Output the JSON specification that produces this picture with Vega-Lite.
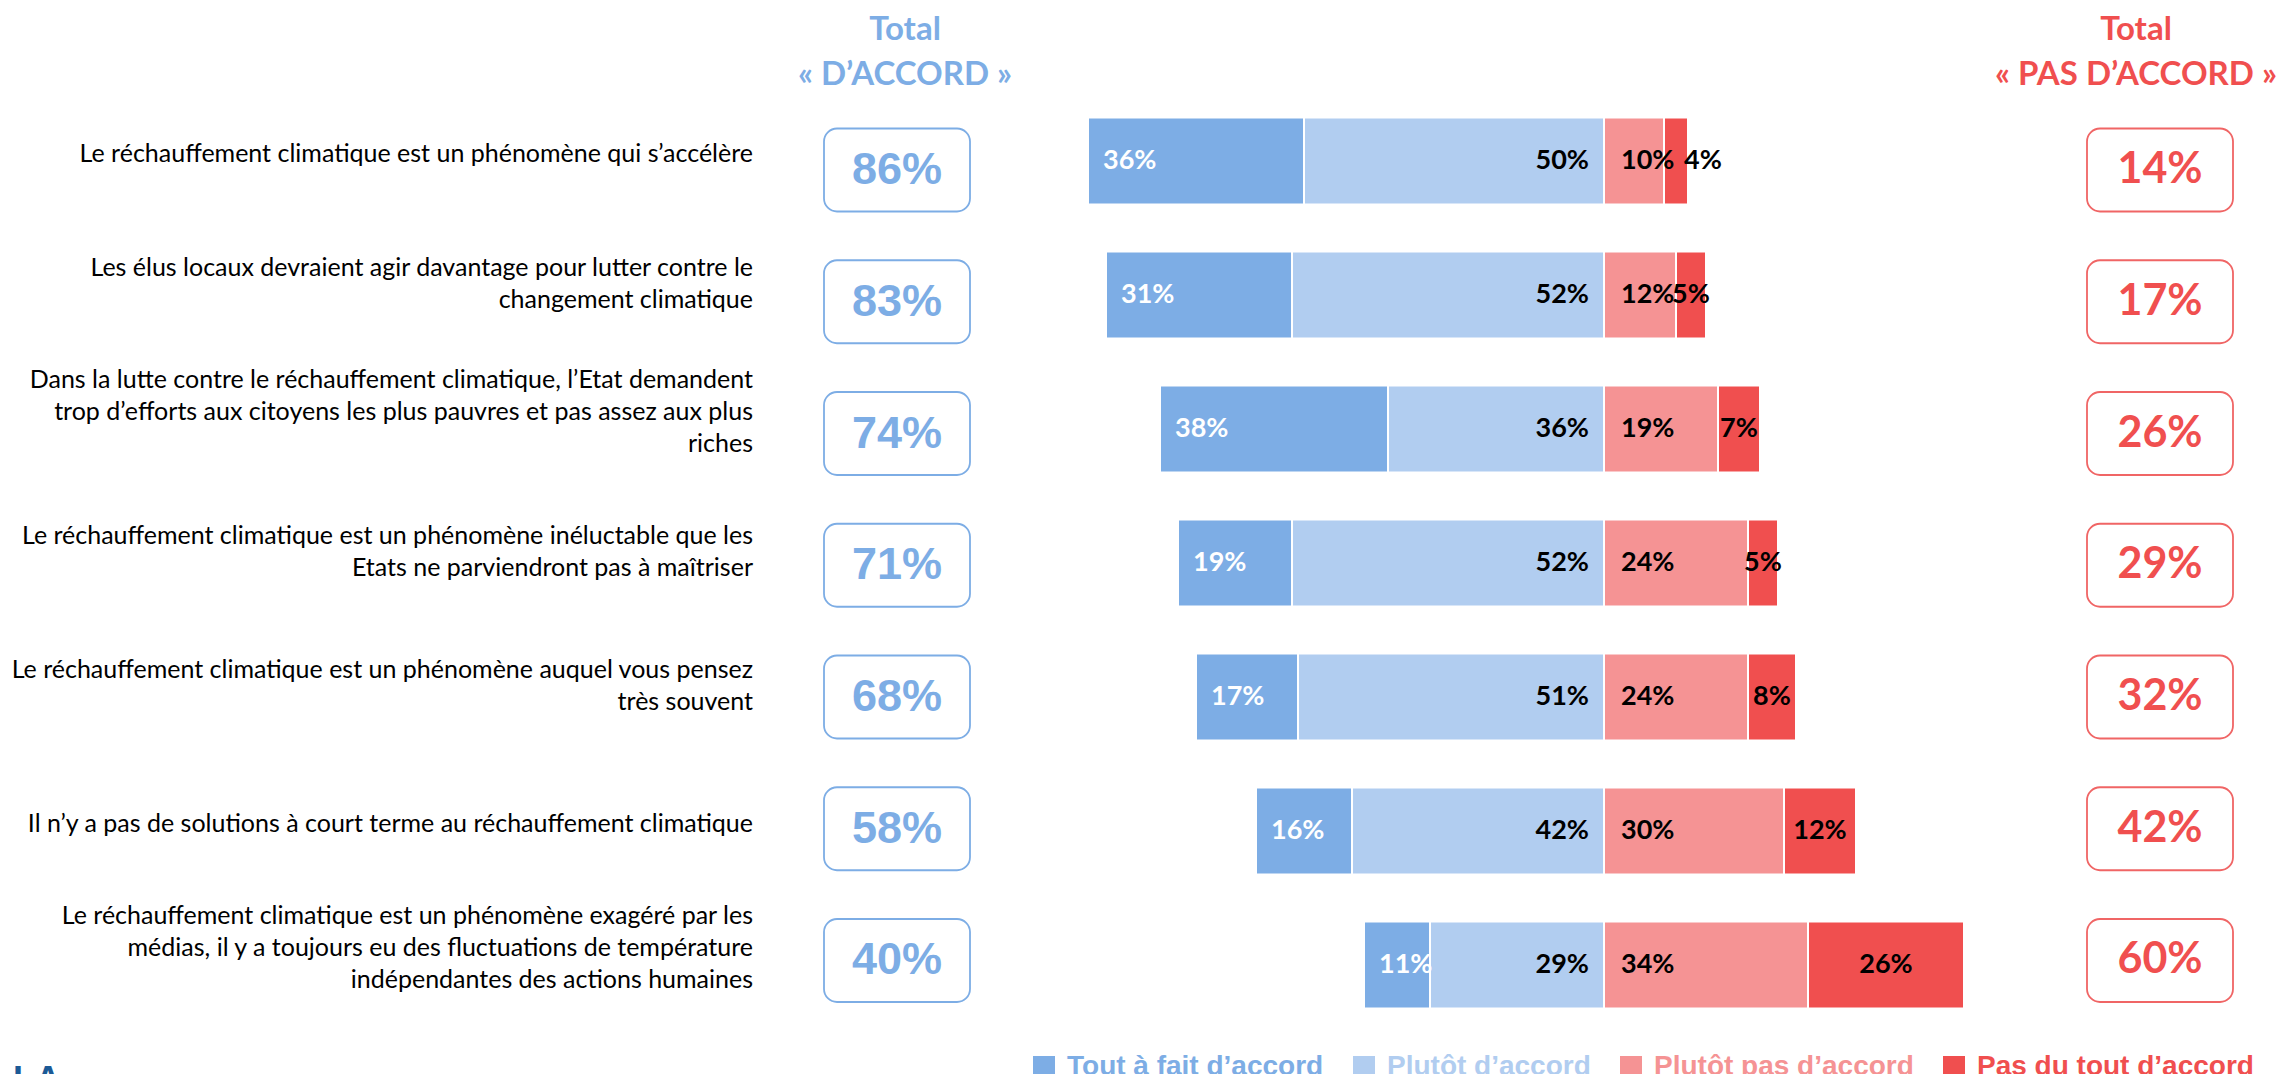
{
  "$schema": "https://vega.github.io/schema/vega-lite/v6.json",
  "padding": {"top": 14, "left": 0, "right": 0, "bottom": 0},
  "background": "white",
  "bounds": "flush",
  "spacing": 71,
  "config": {
    "view": {"stroke": null},
    "legend": {
      "orient": "none",
      "legendX": 1030,
      "legendY": 959,
      "direction": "horizontal",
      "symbolType": "square",
      "symbolSize": 484,
      "symbolStrokeWidth": 0,
      "symbolOpacity": 1,
      "labelFont": "Liberation Sans",
      "labelFontWeight": "bold",
      "labelFontSize": 28,
      "labelLimit": 600,
      "labelOffset": 9,
      "columnPadding": 26,
      "padding": 0,
      "labelColor": {"expr": "scale('color', datum.value)"}
    }
  },
  "datasets": {
    "bars": [
      {"q": "Le réchauffement climatique est un phénomène qui s’accélère", "cat": "Tout à fait d’accord", "k": "tf", "ord": 2, "v": 0.36},
      {"q": "Le réchauffement climatique est un phénomène qui s’accélère", "cat": "Plutôt d’accord", "k": "pa", "ord": 1, "v": 0.50},
      {"q": "Le réchauffement climatique est un phénomène qui s’accélère", "cat": "Plutôt pas d’accord", "k": "pp", "ord": 1, "v": 0.10},
      {"q": "Le réchauffement climatique est un phénomène qui s’accélère", "cat": "Pas du tout d’accord", "k": "pt", "ord": 2, "v": 0.04},
      {"q": "Les élus locaux devraient agir davantage pour lutter contre le|changement climatique", "cat": "Tout à fait d’accord", "k": "tf", "ord": 2, "v": 0.31},
      {"q": "Les élus locaux devraient agir davantage pour lutter contre le|changement climatique", "cat": "Plutôt d’accord", "k": "pa", "ord": 1, "v": 0.52},
      {"q": "Les élus locaux devraient agir davantage pour lutter contre le|changement climatique", "cat": "Plutôt pas d’accord", "k": "pp", "ord": 1, "v": 0.12},
      {"q": "Les élus locaux devraient agir davantage pour lutter contre le|changement climatique", "cat": "Pas du tout d’accord", "k": "pt", "ord": 2, "v": 0.05},
      {"q": "Dans la lutte contre le réchauffement climatique, l’Etat demandent|trop d’efforts aux citoyens les plus pauvres et pas assez aux plus|riches", "cat": "Tout à fait d’accord", "k": "tf", "ord": 2, "v": 0.38},
      {"q": "Dans la lutte contre le réchauffement climatique, l’Etat demandent|trop d’efforts aux citoyens les plus pauvres et pas assez aux plus|riches", "cat": "Plutôt d’accord", "k": "pa", "ord": 1, "v": 0.36},
      {"q": "Dans la lutte contre le réchauffement climatique, l’Etat demandent|trop d’efforts aux citoyens les plus pauvres et pas assez aux plus|riches", "cat": "Plutôt pas d’accord", "k": "pp", "ord": 1, "v": 0.19},
      {"q": "Dans la lutte contre le réchauffement climatique, l’Etat demandent|trop d’efforts aux citoyens les plus pauvres et pas assez aux plus|riches", "cat": "Pas du tout d’accord", "k": "pt", "ord": 2, "v": 0.07},
      {"q": "Le réchauffement climatique est un phénomène inéluctable que les|Etats ne parviendront pas à maîtriser", "cat": "Tout à fait d’accord", "k": "tf", "ord": 2, "v": 0.19},
      {"q": "Le réchauffement climatique est un phénomène inéluctable que les|Etats ne parviendront pas à maîtriser", "cat": "Plutôt d’accord", "k": "pa", "ord": 1, "v": 0.52},
      {"q": "Le réchauffement climatique est un phénomène inéluctable que les|Etats ne parviendront pas à maîtriser", "cat": "Plutôt pas d’accord", "k": "pp", "ord": 1, "v": 0.24},
      {"q": "Le réchauffement climatique est un phénomène inéluctable que les|Etats ne parviendront pas à maîtriser", "cat": "Pas du tout d’accord", "k": "pt", "ord": 2, "v": 0.05},
      {"q": "Le réchauffement climatique est un phénomène auquel vous pensez|très souvent", "cat": "Tout à fait d’accord", "k": "tf", "ord": 2, "v": 0.17},
      {"q": "Le réchauffement climatique est un phénomène auquel vous pensez|très souvent", "cat": "Plutôt d’accord", "k": "pa", "ord": 1, "v": 0.51},
      {"q": "Le réchauffement climatique est un phénomène auquel vous pensez|très souvent", "cat": "Plutôt pas d’accord", "k": "pp", "ord": 1, "v": 0.24},
      {"q": "Le réchauffement climatique est un phénomène auquel vous pensez|très souvent", "cat": "Pas du tout d’accord", "k": "pt", "ord": 2, "v": 0.08},
      {"q": "Il n’y a pas de solutions à court terme au réchauffement climatique", "cat": "Tout à fait d’accord", "k": "tf", "ord": 2, "v": 0.16},
      {"q": "Il n’y a pas de solutions à court terme au réchauffement climatique", "cat": "Plutôt d’accord", "k": "pa", "ord": 1, "v": 0.42},
      {"q": "Il n’y a pas de solutions à court terme au réchauffement climatique", "cat": "Plutôt pas d’accord", "k": "pp", "ord": 1, "v": 0.30},
      {"q": "Il n’y a pas de solutions à court terme au réchauffement climatique", "cat": "Pas du tout d’accord", "k": "pt", "ord": 2, "v": 0.12},
      {"q": "Le réchauffement climatique est un phénomène exagéré par les|médias, il y a toujours eu des fluctuations de température|indépendantes des actions humaines", "cat": "Tout à fait d’accord", "k": "tf", "ord": 2, "v": 0.11},
      {"q": "Le réchauffement climatique est un phénomène exagéré par les|médias, il y a toujours eu des fluctuations de température|indépendantes des actions humaines", "cat": "Plutôt d’accord", "k": "pa", "ord": 1, "v": 0.29},
      {"q": "Le réchauffement climatique est un phénomène exagéré par les|médias, il y a toujours eu des fluctuations de température|indépendantes des actions humaines", "cat": "Plutôt pas d’accord", "k": "pp", "ord": 1, "v": 0.34},
      {"q": "Le réchauffement climatique est un phénomène exagéré par les|médias, il y a toujours eu des fluctuations de température|indépendantes des actions humaines", "cat": "Pas du tout d’accord", "k": "pt", "ord": 2, "v": 0.26}
    ],
    "totals": [
      {"q": "Le réchauffement climatique est un phénomène qui s’accélère", "agree": 0.86, "disagree": 0.14},
      {"q": "Les élus locaux devraient agir davantage pour lutter contre le|changement climatique", "agree": 0.83, "disagree": 0.17},
      {"q": "Dans la lutte contre le réchauffement climatique, l’Etat demandent|trop d’efforts aux citoyens les plus pauvres et pas assez aux plus|riches", "agree": 0.74, "disagree": 0.26},
      {"q": "Le réchauffement climatique est un phénomène inéluctable que les|Etats ne parviendront pas à maîtriser", "agree": 0.71, "disagree": 0.29},
      {"q": "Le réchauffement climatique est un phénomène auquel vous pensez|très souvent", "agree": 0.68, "disagree": 0.32},
      {"q": "Il n’y a pas de solutions à court terme au réchauffement climatique", "agree": 0.58, "disagree": 0.42},
      {"q": "Le réchauffement climatique est un phénomène exagéré par les|médias, il y a toujours eu des fluctuations de température|indépendantes des actions humaines", "agree": 0.40, "disagree": 0.60}
    ]
  },
  "hconcat": [
    {
      "width": 753,
      "height": 938,
      "data": {"name": "totals"},
      "title": {"text": "LA", "orient": "bottom", "anchor": "start", "baseline": "top", "offset": 29, "dx": 13, "font": "Liberation Sans", "fontWeight": "bold", "fontSize": 36, "color": "#1B5A96"},
      "encoding": {
        "y": {"field": "q", "type": "nominal", "sort": null, "axis": null, "scale": {"paddingInner": 0.35, "paddingOuter": 0.175}},
        "x": {"datum": 1, "type": "quantitative", "axis": null, "scale": {"domain": [0, 1], "nice": false, "zero": false}},
        "text": {"field": "q"}
      },
      "layer": [
        {
          "mark": {"type": "text", "align": "right", "baseline": "middle", "lineBreak": "|", "font": "Lato", "fontSize": 25, "lineHeight": 32, "color": "#000000", "dy": -7},
          "encoding": {"opacity": {"condition": {"test": "length(split(datum.q, '|')) == 1", "value": 1}, "value": 0}}
        },
        {
          "mark": {"type": "text", "align": "right", "baseline": "middle", "lineBreak": "|", "font": "Lato", "fontSize": 25, "lineHeight": 32, "color": "#000000", "dy": -27},
          "encoding": {"opacity": {"condition": {"test": "length(split(datum.q, '|')) == 2", "value": 1}, "value": 0}}
        },
        {
          "mark": {"type": "text", "align": "right", "baseline": "middle", "lineBreak": "|", "font": "Lato", "fontSize": 25, "lineHeight": 32, "color": "#000000", "dy": -49},
          "encoding": {"opacity": {"condition": {"test": "length(split(datum.q, '|')) == 3", "value": 1}, "value": 0}}
        }
      ]
    },
    {
      "width": 146,
      "height": 942.5,
      "data": {"name": "totals"},
      "title": {"text": ["Total", "« D’ACCORD »"], "orient": "top", "anchor": "middle", "baseline": "alphabetic", "offset": -23.5, "dx": 8, "lineHeight": 44.5, "font": "Lato", "fontWeight": "bold", "fontSize": 33, "color": "#7DADE5"},
      "encoding": {
        "y": {"field": "q", "type": "nominal", "sort": null, "axis": null, "scale": {"paddingInner": 0.37, "paddingOuter": 0.262}}
      },
      "layer": [
        {
          "mark": {"type": "rect", "fill": "white", "stroke": "#7DADE5", "strokeWidth": 1.8, "cornerRadius": 13},
          "encoding": {
            "x": {"datum": 0, "type": "quantitative", "axis": null, "scale": {"domain": [0, 1], "nice": false, "zero": false}},
            "x2": {"datum": 1}
          }
        },
        {
          "mark": {"type": "text", "align": "center", "baseline": "middle", "font": "Liberation Sans", "fontWeight": "bold", "fontSize": 45, "color": "#7DADE5"},
          "encoding": {
            "x": {"datum": 0.5, "type": "quantitative"},
            "text": {"field": "agree", "type": "quantitative", "format": ".0%"}
          }
        }
      ]
    },
    {
      "width": 975,
      "height": 938,
      "data": {"name": "bars"},
      "resolve": {"scale": {"x": "independent"}},
      "layer": [
        {
          "transform": [{"filter": "datum.k == 'tf' || datum.k == 'pa'"}],
          "encoding": {
            "y": {"field": "q", "type": "nominal", "sort": null, "axis": null, "scale": {"paddingInner": 0.35, "paddingOuter": 0.175}},
            "x": {"field": "v", "type": "quantitative", "stack": "zero", "axis": null, "scale": {"domain": [-0.68667, 0.93833], "reverse": true, "nice": false, "zero": false}},
            "order": {"field": "ord", "type": "quantitative"},
            "detail": {"field": "k"}
          },
          "layer": [
            {
              "mark": {"type": "bar", "stroke": "white", "strokeWidth": 2},
              "encoding": {
                "color": {"field": "cat", "type": "nominal", "title": null,
                  "scale": {"domain": ["Tout à fait d’accord", "Plutôt d’accord", "Plutôt pas d’accord", "Pas du tout d’accord"], "range": ["#7DADE5", "#B1CDF0", "#F59394", "#F04F4F"]}
                }
              }
            },
            {
              "mark": {"type": "text", "align": "left", "baseline": "middle", "dx": 15, "font": "Lato", "fontWeight": "bold", "fontSize": 27, "color": "white"},
              "encoding": {
                "x": {"field": "v", "type": "quantitative", "stack": "zero", "bandPosition": 1},
                "text": {"field": "v", "type": "quantitative", "format": ".0%"},
                "opacity": {"condition": {"test": "datum.k == 'tf'", "value": 1}, "value": 0}
              }
            },
            {
              "mark": {"type": "text", "align": "right", "baseline": "middle", "dx": -15, "font": "Lato", "fontWeight": "bold", "fontSize": 27, "color": "black"},
              "encoding": {
                "x": {"field": "v", "type": "quantitative", "stack": "zero", "bandPosition": 0},
                "text": {"field": "v", "type": "quantitative", "format": ".0%"},
                "opacity": {"condition": {"test": "datum.k == 'pa'", "value": 1}, "value": 0}
              }
            }
          ]
        },
        {
          "transform": [{"filter": "datum.k == 'pp' || datum.k == 'pt'"}],
          "encoding": {
            "y": {"field": "q", "type": "nominal", "sort": null, "axis": null, "scale": {"paddingInner": 0.35, "paddingOuter": 0.175}},
            "x": {"field": "v", "type": "quantitative", "stack": "zero", "axis": null, "scale": {"domain": [-0.93833, 0.68667], "nice": false, "zero": false}},
            "order": {"field": "ord", "type": "quantitative"},
            "detail": {"field": "k"}
          },
          "layer": [
            {
              "mark": {"type": "bar", "stroke": "white", "strokeWidth": 2},
              "encoding": {
                "color": {"field": "cat", "type": "nominal", "title": null,
                  "scale": {"domain": ["Tout à fait d’accord", "Plutôt d’accord", "Plutôt pas d’accord", "Pas du tout d’accord"], "range": ["#7DADE5", "#B1CDF0", "#F59394", "#F04F4F"]}
                }
              }
            },
            {
              "mark": {"type": "text", "align": "left", "baseline": "middle", "dx": 17, "font": "Lato", "fontWeight": "bold", "fontSize": 27, "color": "black"},
              "encoding": {
                "x": {"field": "v", "type": "quantitative", "stack": "zero", "bandPosition": 0},
                "text": {"field": "v", "type": "quantitative", "format": ".0%"},
                "opacity": {"condition": {"test": "datum.k == 'pp'", "value": 1}, "value": 0}
              }
            },
            {
              "mark": {"type": "text", "align": "left", "baseline": "middle", "dx": -4, "font": "Lato", "fontWeight": "bold", "fontSize": 27, "color": "black"},
              "encoding": {
                "x": {"field": "v", "type": "quantitative", "stack": "zero", "bandPosition": 1},
                "text": {"field": "v", "type": "quantitative", "format": ".0%"},
                "opacity": {"condition": {"test": "datum.k == 'pt' && datum.v < 0.045", "value": 1}, "value": 0}
              }
            },
            {
              "mark": {"type": "text", "align": "center", "baseline": "middle", "font": "Lato", "fontWeight": "bold", "fontSize": 27, "color": "black"},
              "encoding": {
                "x": {"field": "v", "type": "quantitative", "stack": "zero", "bandPosition": 0.5},
                "text": {"field": "v", "type": "quantitative", "format": ".0%"},
                "opacity": {"condition": {"test": "datum.k == 'pt' && datum.v >= 0.045", "value": 1}, "value": 0}
              }
            }
          ]
        }
      ]
    },
    {
      "width": 146,
      "height": 942.5,
      "data": {"name": "totals"},
      "title": {"text": ["Total", "« PAS D’ACCORD »"], "orient": "top", "anchor": "middle", "baseline": "alphabetic", "offset": -23.5, "dx": -24, "lineHeight": 44.5, "font": "Lato", "fontWeight": "bold", "fontSize": 33, "color": "#F04F4F"},
      "encoding": {
        "y": {"field": "q", "type": "nominal", "sort": null, "axis": null, "scale": {"paddingInner": 0.37, "paddingOuter": 0.262}}
      },
      "layer": [
        {
          "mark": {"type": "rect", "fill": "white", "stroke": "#F06565", "strokeWidth": 1.8, "cornerRadius": 13},
          "encoding": {
            "x": {"datum": 0, "type": "quantitative", "axis": null, "scale": {"domain": [0, 1], "nice": false, "zero": false}},
            "x2": {"datum": 1}
          }
        },
        {
          "mark": {"type": "text", "align": "center", "baseline": "middle", "font": "Lato", "fontWeight": "bold", "fontSize": 43, "color": "#F04F4F"},
          "encoding": {
            "x": {"datum": 0.5, "type": "quantitative"},
            "text": {"field": "disagree", "type": "quantitative", "format": ".0%"}
          }
        }
      ]
    }
  ]
}
